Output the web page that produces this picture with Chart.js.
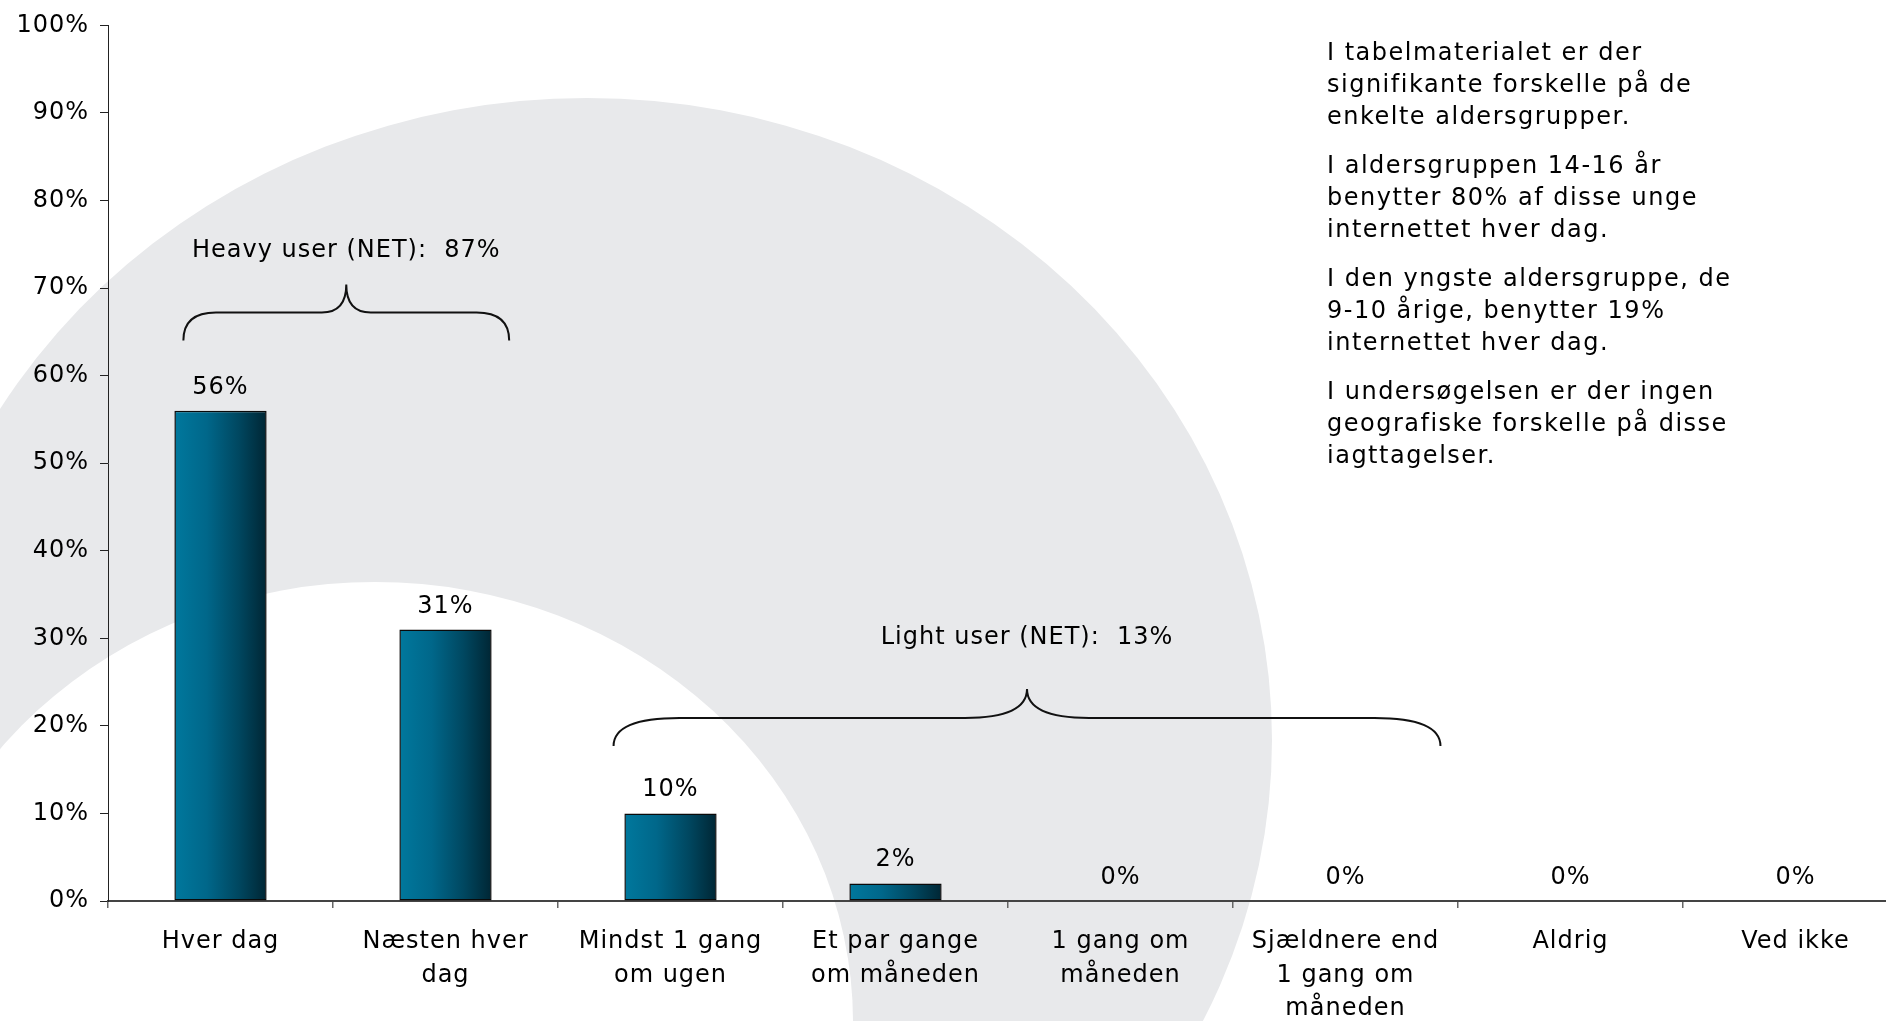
<!DOCTYPE html>
<html><head><meta charset="utf-8">
<script src="https://cdn.jsdelivr.net/npm/chart.js@4.4.0/dist/chart.umd.min.js"></script>
<style>
html,body{margin:0;padding:0;background:#fff;overflow:hidden;}
#frame{position:relative;width:1886px;height:1021px;overflow:hidden;}
#wrap{position:absolute;left:0;top:0;width:1910px;height:1021px;}
#note{position:absolute;left:1327px;top:36px;font-family:'DejaVu Sans',Verdana,sans-serif;font-size:24px;line-height:32px;letter-spacing:1.5px;color:#000;white-space:nowrap;}
#note p{margin:0 0 17px 0;}
</style></head><body>
<div id="frame">
  <div id="wrap"><canvas id="c"></canvas></div>
  <div id="note">
    <p>I tabelmaterialet er der<br>signifikante forskelle på de<br>enkelte aldersgrupper.</p>
    <p>I aldersgruppen 14-16 år<br>benytter 80% af disse unge<br>internettet hver dag.</p>
    <p>I den yngste aldersgruppe, de<br>9-10 årige, benytter 19%<br>internettet hver dag.</p>
    <p>I undersøgelsen er der ingen<br>geografiske forskelle på disse<br>iagttagelser.</p>
  </div>
</div>
<script>
// ---- data ----
const categories = [
  'Hver dag',
  ['Næsten hver', 'dag'],
  ['Mindst 1 gang', 'om ugen'],
  ['Et par gange', 'om måneden'],
  ['1 gang om', 'måneden'],
  ['Sjældnere end', '1 gang om', 'måneden'],
  'Aldrig',
  'Ved ikke'
];
const values = [56, 31, 10, 2, 0, 0, 0, 0];
const yTickMax = 100;
const yTickStep = 10;
const netNames = ['Heavy user (NET):', 'Light user (NET):'];
const netValues = [87, 13];

// ---- annotation geometry (category-index / value units) ----
const braceLayout = [
  {from: -0.165, to: 1.283, yEnd: 64.0, yBar: 67.2, yTip: 70.4, yText: 73.5},
  {from: 1.747, to: 5.422, yEnd: 17.7, yBar: 20.9, yTip: 24.2, yText: 29.3}
];

Chart.defaults.font.family = "'DejaVu Sans', Verdana, sans-serif";
Chart.defaults.font.size = 24;
Chart.defaults.color = '#000';

const bgPlugin = {
  id: 'bg',
  beforeDraw(chart) {
    const ctx = chart.ctx;
    ctx.save();
    ctx.fillStyle = '#ffffff';
    ctx.fillRect(0, 0, chart.width, chart.height);
    ctx.fillStyle = '#e8e9eb';
    ctx.beginPath(); ctx.ellipse(587, 740, 685, 642, 0, 0, Math.PI * 2); ctx.fill();
    ctx.fillStyle = '#ffffff';
    ctx.beginPath(); ctx.ellipse(375, 1022, 478, 440, 0, 0, Math.PI * 2); ctx.fill();
    ctx.restore();
    ctx.letterSpacing = '1px';
  }
};

const labelPlugin = {
  id: 'labels',
  afterDatasetsDraw(chart) {
    const ctx = chart.ctx;
    const xs = chart.scales.x, ys = chart.scales.y;
    ctx.save();
    ctx.letterSpacing = '1px';
    ctx.font = "24px 'DejaVu Sans', Verdana, sans-serif";
    ctx.fillStyle = '#000';
    ctx.textAlign = 'center';
    ctx.textBaseline = 'alphabetic';
    const meta = chart.getDatasetMeta(0);
    meta.data.forEach((bar, i) => {
      ctx.fillText(values[i] + '%', bar.x, bar.y - 17);
    });
    // braces
    braceLayout.forEach((b, i) => {
      const x1 = xs.getPixelForValue(b.from), x2 = xs.getPixelForValue(b.to);
      const cx = (x1 + x2) / 2, half = (x2 - x1) / 2;
      const wE = Math.min(half * 0.2, 66), wM = Math.min(half * 0.15, 66);
      const yE = ys.getPixelForValue(b.yEnd), yB = ys.getPixelForValue(b.yBar), yT = ys.getPixelForValue(b.yTip);
      ctx.beginPath();
      ctx.moveTo(x1, yE);
      ctx.quadraticCurveTo(x1, yB, x1 + wE, yB);
      ctx.lineTo(cx - wM, yB);
      ctx.quadraticCurveTo(cx, yB, cx, yT);
      ctx.quadraticCurveTo(cx, yB, cx + wM, yB);
      ctx.lineTo(x2 - wE, yB);
      ctx.quadraticCurveTo(x2, yB, x2, yE);
      ctx.lineWidth = 2;
      ctx.strokeStyle = '#111';
      ctx.stroke();
      ctx.fillText(netNames[i] + '  ' + netValues[i] + '%', cx, ys.getPixelForValue(b.yText));
    });
    ctx.restore();
  }
};

function barGradient(c) {
  const chart = c.chart;
  const xs = chart.scales && chart.scales.x;
  if (!xs || c.dataIndex === undefined || !xs.width) return '#006485';
  const center = xs.getPixelForValue(c.dataIndex);
  const w = (xs.width / categories.length) * 0.41;
  const g = chart.ctx.createLinearGradient(center - w / 2, 0, center + w / 2, 0);
  g.addColorStop(0, '#00789d');
  g.addColorStop(0.35, '#00678a');
  g.addColorStop(0.7, '#004760');
  g.addColorStop(1, '#002634');
  return g;
}

new Chart(document.getElementById('c'), {
  type: 'bar',
  data: {
    labels: categories,
    datasets: [{
      data: values,
      backgroundColor: barGradient,
      borderColor: '#0a0a0a',
      borderWidth: c => (values[c.dataIndex] === 0 ? 0 : 1.5),
      borderSkipped: false,
      barPercentage: 0.41,
      categoryPercentage: 1.0
    }]
  },
  options: {
    responsive: true,
    maintainAspectRatio: false,
    animation: false,
    layout: {padding: {left: 0, right: 2, top: 21, bottom: 0}},
    plugins: {legend: {display: false}, tooltip: {enabled: false}, title: {display: false}},
    scales: {
      x: {
        offset: true,
        grid: {display: true, offset: true, drawOnChartArea: false, drawTicks: true, tickLength: 7, color: '#666', lineWidth: 1.5},
        border: {display: true, color: '#444', width: 2},
        ticks: {color: '#000', font: {size: 24, lineHeight: 1.4}, padding: 17, maxRotation: 0, minRotation: 0, autoSkip: false},
        afterFit(s) { s.height = 120; }
      },
      y: {
        min: 0, max: yTickMax,
        ticks: {stepSize: yTickStep, callback: v => v + '%', color: '#000', font: {size: 24}, padding: 11},
        grid: {drawOnChartArea: false, tickLength: 8, color: '#222', lineWidth: 1},
        border: {display: true, color: '#222', width: 1},
        afterFit(s) { s.width = 108; }
      }
    }
  },
  plugins: [bgPlugin, labelPlugin]
});
</script>
</body></html>
